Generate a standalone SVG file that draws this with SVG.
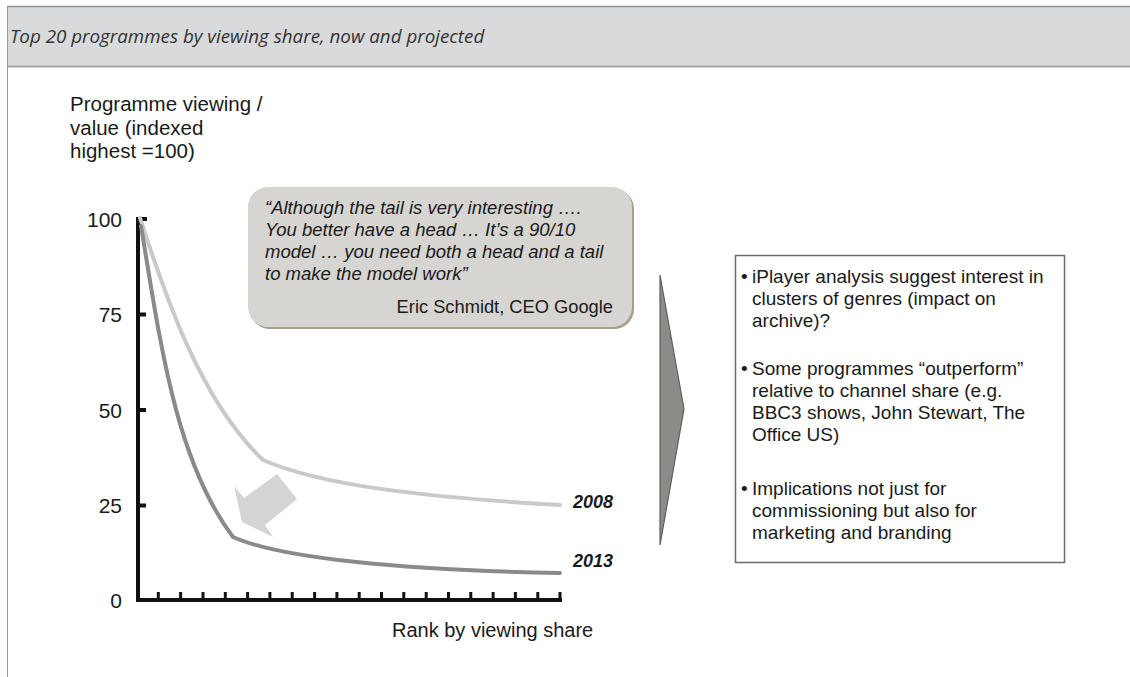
<svg xmlns="http://www.w3.org/2000/svg" width="1130" height="677" viewBox="0 0 1130 677">
  <style>
    .sans { font-family: "Liberation Sans", Arial, sans-serif; fill: #1a1a1a; }
    .title { font-family: "Open Sans", "Liberation Sans", sans-serif; font-style: italic; font-size: 18.8px; fill: #333333; }
    .ylab { font-size: 20.5px; }
    .tick { font-size: 21px; text-anchor: end; }
    .quote { font-size: 18.5px; font-style: italic; }
    .bul { font-size: 19px; }
    .year { font-size: 18px; font-style: italic; font-weight: bold; }
    .axis { stroke: #111; stroke-width: 4; fill: none; }
    .curve { fill: none; stroke-width: 4; stroke-linecap: round; }
  </style>

  <rect width="1130" height="677" fill="#ffffff"/>

  <!-- header band -->
  <g id="header">
    <rect x="7" y="7" width="1123" height="60" fill="#d9dadb"/>
    <line x1="7" y1="6.5" x2="1130" y2="6.5" stroke="#8f8f8f" stroke-width="1.5"/>
    <line x1="7" y1="66.5" x2="1130" y2="66.5" stroke="#a5a5a5" stroke-width="2"/>
    <line x1="7.5" y1="6" x2="7.5" y2="677" stroke="#9a9a9a" stroke-width="1"/>
    <text class="title" x="10" y="43">Top 20 programmes by viewing share, now and projected</text>
  </g>

  <!-- y axis title -->
  <g id="y-title" class="sans ylab">
    <text x="70" y="111">Programme viewing /</text>
    <text x="70" y="134.5">value (indexed</text>
    <text x="70" y="158">highest =100)</text>
  </g>

  <!-- axes and ticks -->
  <g id="axes">
    <line class="axis" x1="138" y1="217" x2="138" y2="602"/>
    <line class="axis" x1="136" y1="600" x2="562" y2="600"/>
    <g stroke="#111" stroke-width="4">
      <line x1="138" y1="219" x2="147" y2="219"/>
      <line x1="138" y1="314.5" x2="146" y2="314.5"/>
      <line x1="138" y1="410" x2="146" y2="410"/>
      <line x1="138" y1="505.5" x2="146" y2="505.5"/>
    </g>
    <g stroke="#111" stroke-width="3">
      <line x1="158.3" y1="600" x2="158.3" y2="592"/>
      <line x1="180.6" y1="600" x2="180.6" y2="592"/>
      <line x1="203.0" y1="600" x2="203.0" y2="592"/>
      <line x1="225.3" y1="600" x2="225.3" y2="592"/>
      <line x1="247.6" y1="600" x2="247.6" y2="592"/>
      <line x1="269.9" y1="600" x2="269.9" y2="592"/>
      <line x1="292.2" y1="600" x2="292.2" y2="592"/>
      <line x1="314.6" y1="600" x2="314.6" y2="592"/>
      <line x1="336.9" y1="600" x2="336.9" y2="592"/>
      <line x1="359.2" y1="600" x2="359.2" y2="592"/>
      <line x1="381.5" y1="600" x2="381.5" y2="592"/>
      <line x1="403.8" y1="600" x2="403.8" y2="592"/>
      <line x1="426.2" y1="600" x2="426.2" y2="592"/>
      <line x1="448.5" y1="600" x2="448.5" y2="592"/>
      <line x1="470.8" y1="600" x2="470.8" y2="592"/>
      <line x1="493.1" y1="600" x2="493.1" y2="592"/>
      <line x1="515.4" y1="600" x2="515.4" y2="592"/>
      <line x1="537.8" y1="600" x2="537.8" y2="592"/>
      <line x1="560.0" y1="600" x2="560.0" y2="592"/>
    </g>
    <g class="sans tick">
      <text x="122" y="227">100</text>
      <text x="122" y="322">75</text>
      <text x="122" y="418">50</text>
      <text x="122" y="513">25</text>
      <text x="122" y="608">0</text>
    </g>
    <text class="sans" x="392" y="637" font-size="20">Rank by viewing share</text>
  </g>

  <!-- viewing curves -->
  <g id="curves">
    <path id="curve-2008" class="curve" stroke="#c9c9c9" d="M140,218 C165,295 200,400 263,460 C320,485 420,497 560,505"/>
    <path id="curve-2013" class="curve" stroke="#8a8a8a" d="M141,226 C160,340 175,460 233,537 C280,558 400,570 560,573"/>
    <text class="sans year" x="573" y="508">2008</text>
    <text class="sans year" x="573" y="567">2013</text>
  </g>

  <!-- shift arrow -->
  <g id="shift-arrow">
    <polygon points="234,486 244,498 277,474 297,499 265,525 273,537 242,522" fill="#d4d4d2"/>
  </g>

  <!-- quote callout -->
  <g id="quote">
    <rect x="250" y="189" width="384" height="140" rx="20" fill="#a89f8a"/>
    <rect x="248" y="187" width="384" height="140" rx="20" fill="#d6d5d1"/>
    <g class="sans quote">
      <text x="265" y="214">“Although the tail is very interesting ….</text>
      <text x="265" y="236">You better have a head … It’s a 90/10</text>
      <text x="265" y="258">model … you need both a head and a tail</text>
      <text x="265" y="280">to make the model work”</text>
    </g>
    <text class="sans" x="613" y="313" font-size="18.3" text-anchor="end">Eric Schmidt, CEO Google</text>
  </g>

  <!-- chevron -->
  <g id="chevron">
    <polygon points="660,275 684,409 660,545" fill="#8b8b87" stroke="#5f5f5f" stroke-width="1.2"/>
  </g>

  <!-- implications box -->
  <g id="implications">
    <rect x="735.5" y="255.5" width="329" height="307" fill="#ffffff" stroke="#6b6b6b" stroke-width="1.5"/>
    <g class="sans bul">
      <text x="741" y="283">•</text>
      <text x="752" y="283">iPlayer analysis suggest interest in</text>
      <text x="752" y="305">clusters of genres (impact on</text>
      <text x="752" y="327">archive)?</text>
      <text x="741" y="375">•</text>
      <text x="752" y="375">Some programmes “outperform”</text>
      <text x="752" y="397">relative to channel share (e.g.</text>
      <text x="752" y="419">BBC3 shows, John Stewart, The</text>
      <text x="752" y="441">Office US)</text>
      <text x="741" y="495">•</text>
      <text x="752" y="495">Implications not just for</text>
      <text x="752" y="517">commissioning but also for</text>
      <text x="752" y="539">marketing and branding</text>
    </g>
  </g>
</svg>
